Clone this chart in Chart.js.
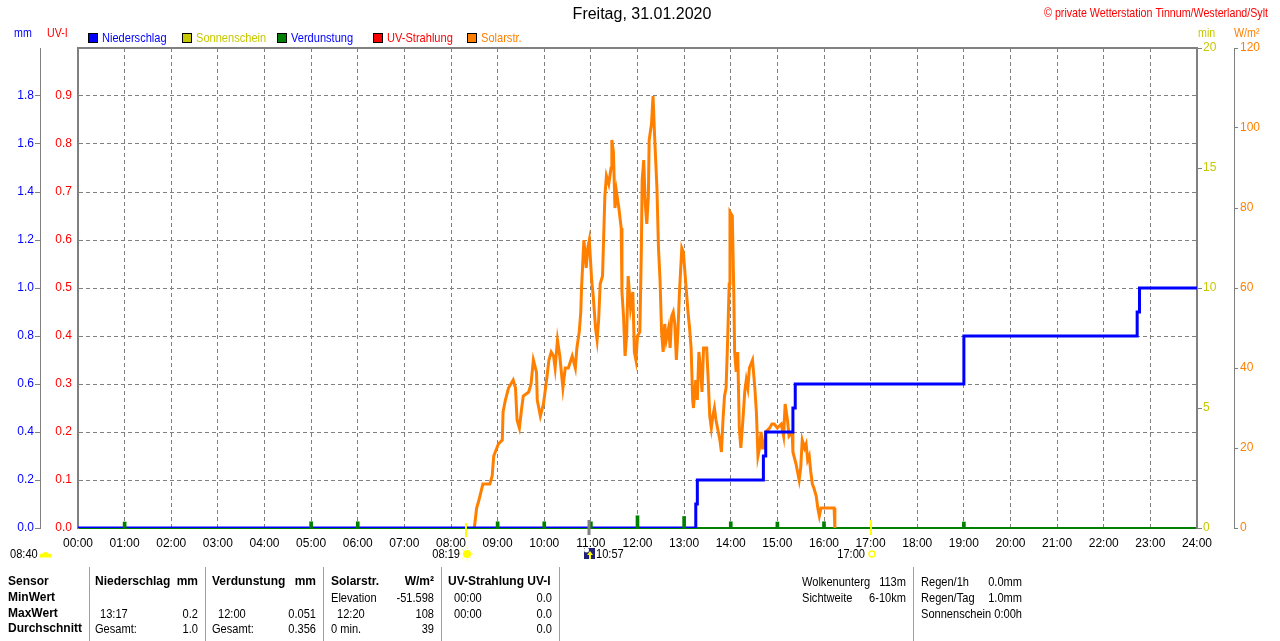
<!DOCTYPE html>
<html>
<head>
<meta charset="utf-8">
<title>Freitag, 31.01.2020</title>
<script src="https://cdn.jsdelivr.net/npm/chart.js@4.4.1/dist/chart.umd.min.js"></script>
<style>
  html, body { margin: 0; padding: 0; background: #fff; }
  #wrap { width: 1280px; height: 641px; }
</style>
</head>
<body>
<div id="wrap"><canvas id="chart" width="1280" height="641"></canvas></div>
<script>
const SANS = '"Liberation Sans", Arial, sans-serif';

// Solarstrahlung W/m2
const solarTimes = [
  '08:30','08:33','08:36','08:41','08:50','08:53','08:55','08:59','09:01','09:06','09:07','09:10',
  '09:14','09:20','09:23','09:25','09:28','09:31','09:33','09:40','09:43','09:46','09:50','09:51',
  '09:55','09:59','10:03','10:06','10:09','10:12','10:14','10:17','10:20','10:24','10:27','10:31',
  '10:36','10:40','10:42','10:45','10:47','10:48','10:51','10:54','10:56','10:58','11:01','11:03',
  '11:06','11:08','11:10','11:12','11:15','11:18','11:20','11:23','11:26','11:27','11:29','11:31',
  '11:33','11:36','11:39','11:40','11:42','11:44','11:46','11:48','11:51','11:54','11:56','11:58',
  '12:00','12:03','12:05','12:06','12:08','12:10','12:12','12:14','12:15','12:18','12:20','12:22',
  '12:25','12:27','12:29','12:31','12:33','12:35','12:37','12:40','12:42','12:44','12:46','12:48',
  '12:50','12:52','12:54','12:57','12:59','13:01','13:03','13:05','13:07','13:09','13:11','13:12',
  '13:15','13:17','13:19','13:21','13:23','13:25','13:29','13:31','13:33','13:35','13:37','13:39',
  '13:41','13:44','13:46','13:48','13:50','13:52','13:54','13:56','13:58','13:59','14:02','14:04',
  '14:05','14:07','14:09','14:11','14:13','14:16','14:18','14:20','14:22','14:24','14:28','14:31',
  '14:33','14:35','14:37','14:39','14:41','14:43','14:45','14:50','14:53','14:56','15:00','15:05',
  '15:08','15:10','15:13','15:15','15:19','15:20','15:24','15:26','15:28','15:30','15:32','15:35',
  '15:37','15:39','15:41','15:43','15:45','15:47','15:50','15:52','15:54','15:56','16:13','16:14'
];
const solarValues = [
  0, 5, 7, 11, 11, 13, 18, 20, 21, 22, 29, 32,
  35, 37, 35, 27, 25, 30, 33, 34, 36, 42, 39, 32,
  28, 31, 37, 42, 44, 43, 40, 47, 43, 35, 40, 40,
  43, 40, 45, 49, 54, 60, 72, 65, 70, 72, 62, 58,
  50, 47, 52, 61, 63, 83, 88, 86, 90, 97, 94, 80,
  84, 80, 75, 59, 53, 43, 48, 63, 55, 59, 44, 42,
  48, 49, 70, 87, 92, 81, 76, 83, 97, 101, 108, 98,
  85, 70, 62, 49, 44, 51, 47, 50, 45, 53, 54, 51,
  42, 49, 59, 70, 69, 64, 59, 54, 50, 45, 32, 30,
  37, 32, 44, 40, 34, 45, 45, 37, 28, 25, 28, 30,
  27, 24, 22, 19, 27, 33, 35, 47, 61, 79, 78, 58,
  44, 39, 44, 25, 20, 28, 34, 37, 35, 40, 42, 35,
  29, 18, 20, 24, 20, 20, 24, 25, 26, 26, 25, 26,
  23, 31, 27, 23, 24, 19, 16, 14, 12, 15, 22, 20,
  21, 17, 18, 14, 11, 10, 8, 5, 3, 5, 5, 0
];

// Niederschlag mm (Summe)
const rainTimes = ['00:00','13:15','13:17','14:42','14:45','15:20','15:23','19:00','22:43','22:46','24:00'];
const rainValues = [0, 0.1, 0.2, 0.3, 0.4, 0.5, 0.6, 0.8, 0.9, 1.0, 1.0];

// Verdunstung mm
const evapTimes = ['01:00','05:00','06:00','09:00','10:00','11:00','12:00','13:00','14:00','15:00','16:00','19:00'];
const evapValues = [0.025, 0.026, 0.026, 0.026, 0.026, 0.026, 0.051, 0.048, 0.026, 0.025, 0.026, 0.025];

// Sonnenauf-/untergang, Sonnenhöchststand
const sunrise = '08:19';
const sunset = '17:00';
const solarNoon = '10:57';
const cloudTime = '08:40';

const tableRows = [
  ['Sensor', 'Niederschlag', 'mm', 'Verdunstung', 'mm', 'Solarstr.', 'W/m²', 'UV-Strahlung UV-I', ''],
  ['MinWert', '', '', '', '', 'Elevation', '-51.598', '00:00', '0.0'],
  ['MaxWert', '13:17', '0.2', '12:00', '0.051', '12:20', '108', '00:00', '0.0'],
  ['Durchschnitt', 'Gesamt:', '1.0', 'Gesamt:', '0.356', '0 min.', '39', '', '0.0']
];
const extraLeft = [['Wolkenunterg', '113m'], ['Sichtweite', '6-10km']];
const extraRight = [['Regen/1h', '0.0mm'], ['Regen/Tag', '1.0mm'], ['Sonnenschein', '0:00h']];

function toH(t) {
  const p = t.split(':');
  return +p[0] + p[1] / 60;
}
function pts(times, values) {
  return times.map((t, i) => ({ x: toH(t), y: values[i] }));
}

// schmale Schrift (wie MS Sans Serif) durch horizontales Stauchen
function narrow(ctx, txt, x, y, align, size) {
  ctx.save();
  ctx.font = size + 'px ' + SANS;
  ctx.textAlign = align;
  ctx.translate(x, y);
  ctx.scale(0.82, 1);
  ctx.fillText(txt, 0, 0);
  ctx.restore();
}

const GRID = '#808080';
const CLEAR = 'rgba(0,0,0,0)';

const decorations = {
  id: 'decorations',
  beforeDatasetsDraw(chart) {
    const { ctx, chartArea: a } = chart;
    ctx.save();
    ctx.strokeStyle = GRID;
    ctx.lineWidth = 2;
    ctx.beginPath();
    ctx.moveTo(a.left - 1, a.top);
    ctx.lineTo(a.right + 1, a.top);
    ctx.stroke();
    ctx.restore();
  },
  afterDraw(chart) {
    const { ctx } = chart;
    const x = chart.scales.x;
    ctx.save();
    ctx.textBaseline = 'middle';

    // Titel
    ctx.fillStyle = '#000';
    ctx.font = '16px ' + SANS;
    ctx.textAlign = 'center';
    ctx.fillText('Freitag, 31.01.2020', 642, 15);

    ctx.fillStyle = '#ff0000';
    narrow(ctx, '© private Wetterstation Tinnum/Westerland/Sylt', 1268, 13, 'right', 13);

    // Einheiten
    ctx.fillStyle = '#0000ff';
    narrow(ctx, 'mm', 14, 33, 'left', 13);
    ctx.fillStyle = '#ff0000';
    narrow(ctx, 'UV-I', 47, 33, 'left', 13);
    ctx.fillStyle = '#c8c800';
    narrow(ctx, 'min', 1198, 33, 'left', 13);
    ctx.fillStyle = '#ff8000';
    narrow(ctx, 'W/m²', 1234, 33, 'left', 13);

    // Legende
    const legendX = [88, 182, 277, 373, 467];
    chart.data.datasets.forEach((ds, i) => {
      const lx = legendX[i];
      ctx.fillStyle = ds.borderColor;
      ctx.fillRect(lx, 33, 10, 10);
      ctx.strokeStyle = '#000';
      ctx.lineWidth = 1;
      ctx.strokeRect(lx + 0.5, 33.5, 9, 9);
      ctx.fillStyle = ds.legendText;
      narrow(ctx, ds.label, lx + 14, 38, 'left', 13.5);
    });

    // Sonnenauf-/untergang
    const base = chart.chartArea.bottom;
    const xr = Math.round(x.getPixelForValue(toH(sunrise)));
    const xs = Math.round(x.getPixelForValue(toH(sunset)));
    const xn = Math.round(x.getPixelForValue(toH(solarNoon)));
    ctx.lineWidth = 2;
    ctx.strokeStyle = '#ffff00';
    ctx.beginPath();
    ctx.moveTo(xr, base - 5); ctx.lineTo(xr, base + 9);
    ctx.moveTo(xs, base - 8); ctx.lineTo(xs, base + 7);
    ctx.stroke();
    ctx.lineWidth = 3;
    ctx.strokeStyle = GRID;
    ctx.beginPath();
    ctx.moveTo(xn, base - 8); ctx.lineTo(xn, base + 7);
    ctx.stroke();

    const ly = 554;
    ctx.fillStyle = '#000';
    narrow(ctx, cloudTime, 10, ly, 'left', 13.5);
    narrow(ctx, sunrise, xr - 6, ly, 'right', 13.5);
    narrow(ctx, sunset, xs - 6, ly, 'right', 13.5);
    narrow(ctx, solarNoon, xn + 7, ly, 'left', 13.5);

    // Wolke
    ctx.fillStyle = '#ffff00';
    ctx.beginPath();
    ctx.arc(42, 556, 2.5, Math.PI, 0);
    ctx.arc(45.5, 555, 3, Math.PI, 0);
    ctx.arc(49, 556, 2.5, Math.PI, 0);
    ctx.lineTo(51.5, 557.5);
    ctx.lineTo(39.5, 557.5);
    ctx.fill();

    // Sonne
    ctx.beginPath();
    ctx.arc(xr + 1, ly, 4, 0, Math.PI * 2);
    ctx.fill();
    ctx.strokeStyle = '#ffff80';
    ctx.lineWidth = 1;
    ctx.beginPath();
    for (let k = 0; k < 8; k++) {
      const an = k * Math.PI / 4;
      ctx.moveTo(xr + 1 + Math.cos(an) * 5, ly + Math.sin(an) * 5);
      ctx.lineTo(xr + 1 + Math.cos(an) * 7, ly + Math.sin(an) * 7);
    }
    ctx.stroke();

    // Sonnenhöchststand
    ctx.fillStyle = '#20207a';
    ctx.fillRect(xn - 5, 548, 11, 11);
    ctx.fillStyle = '#ffffff';
    ctx.beginPath();
    ctx.arc(xn - 2.5, 550, 2.5, 0, Math.PI * 2);
    ctx.fill();
    ctx.fillStyle = '#ffff00';
    ctx.beginPath();
    ctx.moveTo(xn + 1, 551); ctx.lineTo(xn + 4, 555); ctx.lineTo(xn - 2, 555);
    ctx.fill();
    ctx.fillRect(xn, 555, 2, 4);

    // Untergang
    ctx.strokeStyle = '#ffff00';
    ctx.lineWidth = 1.5;
    ctx.beginPath();
    ctx.arc(xs + 1, ly, 3, 0, Math.PI * 2);
    ctx.stroke();

    // Tabelle
    ctx.strokeStyle = '#a0a0a0';
    ctx.lineWidth = 1;
    ctx.beginPath();
    [89, 205, 323, 441, 559, 913].forEach(sx => {
      ctx.moveTo(sx + 0.5, 567);
      ctx.lineTo(sx + 0.5, 641);
    });
    ctx.stroke();

    const rowY = [582, 598, 614, 629];
    const colL = [8, 95, null, 212, null, 331, null, 448, null];
    const colR = [null, null, 198, null, 316, null, 434, null, 552];
    const indent = [0, 5, 0, 6, 0, 6, 0, 6, 0];
    ctx.fillStyle = '#000';
    tableRows.forEach((row, r) => {
      row.forEach((txt, c) => {
        if (!txt) return;
        const bold = r === 0 || c === 0;
        if (bold) {
          ctx.font = 'bold 12px ' + SANS;
          ctx.textAlign = colL[c] !== null ? 'left' : 'right';
          ctx.fillText(txt, colL[c] !== null ? colL[c] : colR[c], rowY[r]);
        } else if (colL[c] !== null) {
          const ind = /^\d\d:\d\d$/.test(txt) ? indent[c] : 0;
          narrow(ctx, txt, colL[c] + ind, rowY[r], 'left', 13.5);
        } else {
          narrow(ctx, txt, colR[c], rowY[r], 'right', 13.5);
        }
      });
    });
    extraLeft.forEach((row, r) => {
      narrow(ctx, row[0], 802, rowY[r], 'left', 13.5);
      narrow(ctx, row[1], 906, rowY[r], 'right', 13.5);
    });
    extraRight.forEach((row, r) => {
      narrow(ctx, row[0], 921, rowY[r], 'left', 13.5);
      narrow(ctx, row[1], 1022, rowY[r], 'right', 13.5);
    });
    ctx.restore();
  }
};

const tickFont = { family: SANS, size: 12 };

new Chart(document.getElementById('chart'), {
  type: 'line',
  data: {
    datasets: [
      {
        label: 'Niederschlag',
        data: pts(rainTimes, rainValues),
        borderColor: '#0000ff',
        legendText: '#0000ff',
        borderWidth: 3,
        stepped: true,
        pointRadius: 0,
        yAxisID: 'mm',
        order: 2
      },
      {
        label: 'Sonnenschein',
        data: [],
        borderColor: '#c8c800',
        legendText: '#c8c800',
        pointRadius: 0,
        yAxisID: 'min',
        order: 4
      },
      {
        type: 'bar',
        label: 'Verdunstung',
        data: pts(evapTimes, evapValues),
        borderColor: '#008000',
        backgroundColor: '#008000',
        legendText: '#0000ff',
        borderWidth: 0,
        barThickness: 3,
        yAxisID: 'mm',
        order: 1
      },
      {
        label: 'UV-Strahlung',
        data: [],
        borderColor: '#ff0000',
        legendText: '#ff0000',
        pointRadius: 0,
        yAxisID: 'uv',
        order: 5
      },
      {
        label: 'Solarstr.',
        data: pts(solarTimes, solarValues),
        borderColor: '#ff8000',
        legendText: '#ff8000',
        borderWidth: 3,
        pointRadius: 0,
        tension: 0,
        yAxisID: 'wm2',
        order: 3
      }
    ]
  },
  options: {
    responsive: false,
    animation: false,
    devicePixelRatio: 1,
    layout: { padding: { top: 48, bottom: 83, left: 0, right: 0 } },
    plugins: {
      legend: { display: false },
      title: { display: false },
      tooltip: { enabled: false }
    },
    scales: {
      x: {
        type: 'linear',
        min: 0,
        max: 24,
        offset: false,
        afterFit: s => { s.height = 30; },
        ticks: {
          stepSize: 1,
          color: '#000',
          font: tickFont,
          padding: 8,
          maxRotation: 0,
          autoSkip: false,
          callback: v => String(v).padStart(2, '0') + ':00'
        },
        grid: {
          offset: false,
          drawTicks: false,
          color: c => (c.tick && (c.tick.value === 0 || c.tick.value === 24)) ? CLEAR : GRID
        },
        border: { color: '#008000', width: 2, dash: [4, 3] }
      },
      mm: {
        position: 'left',
        weight: 2,
        min: 0,
        max: 2,
        afterFit: s => { s.width = 40; },
        ticks: {
          stepSize: 0.2,
          color: '#0000ff',
          font: tickFont,
          padding: 1,
          callback: v => v > 1.99 ? '' : v.toFixed(1)
        },
        grid: {
          tickLength: 5,
          tickColor: c => (c.tick && c.tick.value > 1.99) ? CLEAR : GRID,
          color: c => (c.tick && (c.tick.value < 0.01 || c.tick.value > 1.99)) ? CLEAR : GRID
        },
        border: { color: GRID, width: 1, dash: [4, 3] }
      },
      uv: {
        position: 'left',
        weight: 1,
        min: 0,
        max: 1,
        afterFit: s => { s.width = 38; },
        ticks: {
          stepSize: 0.1,
          color: '#ff0000',
          font: tickFont,
          padding: 6,
          callback: v => v > 0.99 ? '' : v.toFixed(1)
        },
        grid: { drawOnChartArea: false, drawTicks: false },
        border: { color: GRID, width: 2 }
      },
      min: {
        position: 'right',
        weight: 1,
        min: 0,
        max: 20,
        afterFit: s => { s.width = 37; },
        ticks: { stepSize: 5, color: '#c8c800', font: tickFont, padding: 1 },
        grid: { drawOnChartArea: false, tickLength: 5, tickColor: GRID },
        border: { color: GRID, width: 2 }
      },
      wm2: {
        position: 'right',
        weight: 2,
        min: 0,
        max: 120,
        afterFit: s => { s.width = 46; },
        ticks: { stepSize: 20, color: '#ff8000', font: tickFont, padding: 2 },
        grid: { drawOnChartArea: false, tickLength: 4, tickColor: GRID },
        border: { color: GRID, width: 1 }
      }
    }
  },
  plugins: [decorations]
});
</script>
</body>
</html>
